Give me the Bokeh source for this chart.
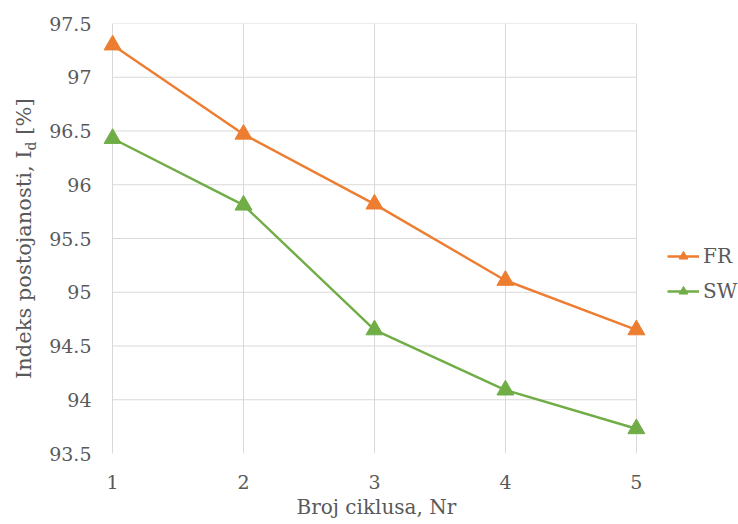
from bokeh.plotting import figure
from bokeh.layouts import row
from bokeh.models import Range1d, FixedTicker, Legend, LegendItem, Div, Title
from bokeh.embed import file_html
from bokeh.resources import INLINE

cycles = [1, 2, 3, 4, 5]
fr = [97.30, 96.47, 95.82, 95.11, 94.65]
sw = [96.43, 95.81, 94.65, 94.09, 93.73]
y_ticks = [93.5, 94, 94.5, 95, 95.5, 96, 96.5, 97, 97.5]
y_tick_labels = {93.5: "93.5", 94: "94", 94.5: "94.5", 95: "95", 95.5: "95.5",
                 96: "96", 96.5: "96.5", 97: "97", 97.5: "97.5"}
x_title = "Broj ciklusa, Nr"
y_title_main, y_title_sub, y_title_unit = "Indeks postojanosti, I", "d", "[%]"

FONT = "DejaVu Serif"
TXT = "#595959"
ORANGE = "#ED7D31"
GREEN = "#70AD47"
GRID = "#D9D9D9"

W, H, LW = 738, 524, 40

# rotated y-axis title with a real subscript
ylab = Div(width=LW, height=H, margin=0, styles={"overflow": "visible"}, text=(
    f'<div style="position:absolute;left:0;top:0;width:{H}px;height:48px;'
    f'line-height:48px;transform-origin:0 0;transform:translate(0px,{H}px) rotate(-90deg);'
    f"white-space:nowrap;font-family:'{FONT}';font-size:21px;color:{TXT};"
    f'padding-left:145px;box-sizing:border-box;">'
    f'{y_title_main}<sub style="font-size:14px;">{y_title_sub}</sub> {y_title_unit}</div>'))

p = figure(width=W - LW, height=H, output_backend="svg", toolbar_location=None,
           x_range=Range1d(0.9, 5.78), y_range=Range1d(93.5, 97.5),
           min_border_left=59, min_border_top=23, min_border_right=0,
           min_border_bottom=71)
p.outline_line_color = None

p.xgrid.ticker = FixedTicker(ticks=cycles)
p.xgrid.grid_line_color = GRID
p.ygrid.grid_line_color = None
p.segment(x0=[cycles[0]] * (len(y_ticks) - 1), x1=[cycles[-1]] * (len(y_ticks) - 1),
          y0=y_ticks[1:], y1=y_ticks[1:], line_color=GRID, line_width=1)

p.xaxis.ticker = FixedTicker(ticks=cycles)
p.yaxis.ticker = FixedTicker(ticks=y_ticks)
p.yaxis.major_label_overrides = y_tick_labels
for ax in (p.xaxis[0], p.yaxis[0]):
    ax.axis_line_color = None
    ax.major_tick_line_color = None
    ax.minor_tick_line_color = None
    ax.major_tick_out = 0
    ax.major_tick_in = 0
    ax.major_label_text_font = FONT
    ax.major_label_text_font_size = "19px"
    ax.major_label_text_color = TXT
p.xaxis.major_label_standoff = 21
p.yaxis.major_label_standoff = 8

# x-axis title, centred under the plotted category span (not the whole frame)
p.add_layout(Title(text=x_title, align="left", offset=197, standoff=2,
                   text_font=FONT, text_font_size="20px", text_font_style="normal",
                   text_color=TXT), "below")

l1 = p.line(cycles, fr, line_color=ORANGE, line_width=2.4)
m1 = p.scatter(cycles, fr, marker="triangle", size=17, fill_color=ORANGE, line_color=ORANGE)
l2 = p.line(cycles, sw, line_color=GREEN, line_width=2.4)
m2 = p.scatter(cycles, sw, marker="triangle", size=17, fill_color=GREEN, line_color=GREEN)

legend = Legend(items=[LegendItem(label="FR", renderers=[l1, m1]),
                       LegendItem(label="SW", renderers=[l2, m2])],
                location=(568, 150), orientation="vertical",
                label_text_font=FONT, label_text_font_size="20px",
                label_text_color=TXT, glyph_width=32, glyph_height=22,
                label_height=22, spacing=11, padding=0, margin=0, label_standoff=4,
                border_line_color=None, background_fill_alpha=0)
p.add_layout(legend, "center")

layout = row(ylab, p, spacing=0)
open("out.html", "w").write(file_html(layout, INLINE))
